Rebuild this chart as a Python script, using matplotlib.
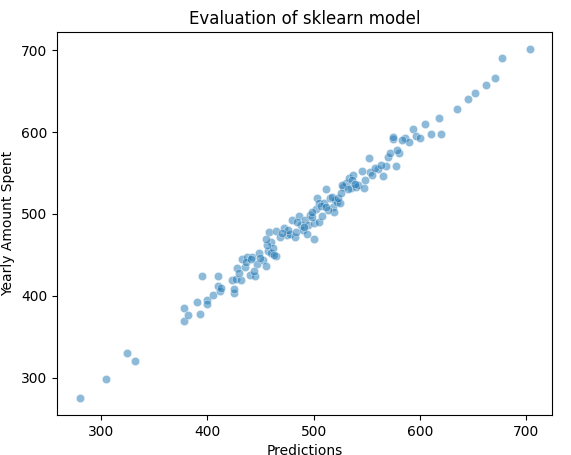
import matplotlib
matplotlib.use("Agg")
import matplotlib.pyplot as plt
import seaborn as sns

predictions = [280, 305, 325, 332, 378, 378, 382, 390, 393, 395, 400, 400, 405, 410, 410, 412, 413,
               423, 425, 425, 427, 428, 432, 433, 435, 437, 440, 442, 445, 447, 449, 452, 455, 457,
               458, 460, 460, 462, 465, 465, 472, 475, 478, 480, 482, 483, 486, 488, 490, 492, 494,
               495, 497, 500, 500, 502, 503, 505, 505, 508, 510, 512, 515, 518, 519, 520, 522, 525,
               528, 530, 533, 535, 537, 540, 542, 545, 547, 552, 553, 555, 560, 565, 568, 570, 572,
               575, 575, 577, 580, 586, 590, 593, 596, 600, 605, 610, 618, 620, 635, 645, 652, 662,
               670, 677, 703,
               430, 436, 444, 450, 456, 463, 468, 476, 484, 491, 498, 507, 513, 517, 523, 527, 532,
               536, 539, 548, 558, 563, 578, 583, 498, 512, 526, 470, 455, 441]
yearly = [276, 299, 330, 320, 385, 369, 377, 392, 378, 424, 395, 390, 401, 424, 412, 406, 410,
          420, 403, 408, 421, 434, 420, 445, 435, 448, 426, 448, 424, 439, 452, 444, 437, 455,
          478, 466, 452, 458, 449, 479, 483, 474, 476, 493, 472, 478, 498, 486, 480, 493, 475,
          487, 499, 469, 489, 506, 520, 490, 513, 498, 513, 530, 520, 508, 503, 517, 515, 513,
          533, 538, 544, 532, 548, 533, 535, 553, 532, 568, 551, 547, 555, 546, 558, 570, 575,
          592, 594, 559, 575, 593, 588, 604, 595, 593, 610, 597, 617, 598, 628, 640, 648, 657,
          666, 690, 701,
          428, 441, 430, 446, 462, 450, 472, 480, 490, 484, 496, 510, 505, 521, 520, 535, 530,
          542, 537, 541, 556, 560, 578, 590, 503, 508, 525, 477, 470, 445]

fig, ax = plt.subplots(figsize=(5.71, 4.55), dpi=100)
sns.scatterplot(x=predictions, y=yearly, alpha=0.5, ax=ax)
ax.set_xlabel("Predictions")
ax.set_ylabel("Yearly Amount Spent")
ax.set_title("Evaluation of sklearn model")
ax.set_xticks([300, 400, 500, 600, 700])
ax.set_yticks([300, 400, 500, 600, 700])
fig.subplots_adjust(left=0.1, right=0.967, top=0.93, bottom=0.088)
fig.savefig("out.png")
